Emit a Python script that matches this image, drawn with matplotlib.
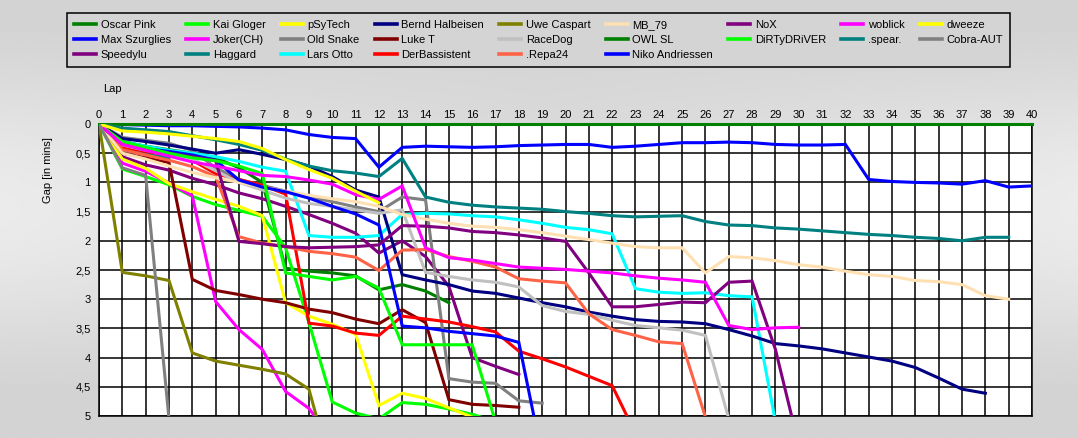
import numpy as np
import matplotlib
matplotlib.use("Agg")
import matplotlib.pyplot as plt
from matplotlib.lines import Line2D

plt.rcParams['font.family'] = ['Liberation Sans', 'DejaVu Sans']

# ---------------- data (gap to leader in minutes, per lap, starting at lap 0) ----------------
names = ["Oscar Pink", "Max Szurglies", "Speedylu", "Kai Gloger", "Joker(CH)", "Haggard",
         "pSyTech", "Old Snake", "Lars Otto", "Bernd Halbeisen", "Luke T", "DerBassistent",
         "Uwe Caspart", "RaceDog", ".Repa24", "MB_79", "OWL SL", "Niko Andriessen",
         "NoX", "DiRTyDRiVER", "woblick", ".spear.", "dweeze", "Cobra-AUT"]

colors = ["#008000", "#0000FF", "#800080", "#00FF00", "#FF00FF", "#008080",
          "#FFFF00", "#808080", "#00FFFF", "#000080", "#800000", "#FF0000",
          "#808000", "#C0C0C0", "#FF6347", "#FFE0B2", "#008000", "#0000FF",
          "#800080", "#00FF00", "#FF00FF", "#008080", "#FFFF00", "#808080"]

oscar_pink = [0, 0.3, 0.38, 0.44, 0.5, 0.58, 0.75, 1.0, 2.47, 2.52, 2.55, 2.6, 2.84, 2.75, 2.86, 3.06]
max_szurglies = [0, 0.01, 0.02, 0.03, 0.03, 0.04, 0.05, 0.07, 0.1, 0.18, 0.23, 0.25, 0.74, 0.4, 0.38,
                 0.39, 0.4, 0.39, 0.37, 0.36, 0.35, 0.35, 0.4, 0.38, 0.35, 0.32, 0.32, 0.31, 0.32,
                 0.35, 0.36, 0.36, 0.35, 0.95, 0.985, 1.0, 1.01, 1.03, 0.97, 1.08, 1.06]
speedylu = [0, 0.56, 0.7, 0.79, 0.93, 1.04, 1.18, 1.28, 1.41, 1.55, 1.7, 1.87, 2.21, 2.0, 2.27,
            2.78, 4.0, 4.15, 4.29]
kai_gloger = [0, 0.77, 0.9, 1.04, 1.24, 1.38, 1.48, 1.58, 2.12, 3.4, 4.76, 4.95, 5.05, 4.77, 4.8,
              4.88, 4.97, 5.1]
joker_ch = [0, 0.67, 0.81, 1.01, 1.23, 3.04, 3.52, 3.86, 4.58, 4.87, 5.4]
haggard = [0, 0.44, 0.52, 0.58]
psytech = [0, 0.6, 0.76, 1.02, 1.16, 1.29, 1.41, 1.57, 3.06, 3.29, 3.43, 3.6, 4.82, 4.61, 4.7,
           4.86, 5.02]
old_snake = [0, 0.23, 0.28, 0.33, 0.45, 0.75, 0.95, 1.05, 1.15, 1.25, 1.33, 1.42, 1.5, 1.25, 1.3,
             4.36, 4.42, 4.44, 4.74, 4.78]
lars_otto = [0, 0.3, 0.38, 0.45, 0.5, 0.56, 0.64, 0.74, 0.81, 1.91, 1.94, 1.94, 1.91, 1.55, 1.53,
             1.54, 1.57, 1.59, 1.64, 1.7, 1.77, 1.81, 1.88, 2.82, 2.88, 2.9, 2.89, 2.94, 2.96, 5.1]
bernd_halbeisen = [0, 0.25, 0.3, 0.36, 0.43, 0.5, 0.44, 0.52, 0.61, 0.72, 0.9, 1.13, 1.25, 2.58,
                   2.67, 2.75, 2.86, 2.9, 2.98, 3.06, 3.13, 3.22, 3.29, 3.35, 3.38, 3.39, 3.42,
                   3.52, 3.63, 3.76, 3.8, 3.85, 3.92, 3.99, 4.06, 4.17, 4.35, 4.54, 4.61]
luke_t = [0, 0.5, 0.58, 0.66, 2.66, 2.85, 2.92, 3.0, 3.06, 3.17, 3.23, 3.34, 3.42, 3.18, 3.4,
          4.72, 4.8, 4.82, 4.85]
derbassistent = [0, 0.4, 0.47, 0.53, 0.62, 0.85, 0.95, 1.05, 1.2, 3.41, 3.46, 3.58, 3.62, 3.29,
                 3.34, 3.39, 3.47, 3.56, 3.89, 4.02, 4.16, 4.32, 4.48, 5.3]
uwe_caspart = [0, 2.54, 2.6, 2.68, 3.92, 4.06, 4.13, 4.2, 4.28, 4.54, 6.0]
racedog = [0, 0.36, 0.45, 0.52, 0.6, 0.8, 1.0, 1.13, 1.27, 1.36, 1.41, 1.47, 1.53, 1.47, 2.54,
           2.61, 2.67, 2.71, 2.79, 3.11, 3.21, 3.26, 3.36, 3.45, 3.49, 3.53, 3.62, 5.05]
repa24 = [0, 0.44, 0.53, 0.62, 0.73, 0.9, 1.93, 2.04, 2.1, 2.18, 2.22, 2.28, 2.51, 2.16, 2.15,
          2.27, 2.35, 2.45, 2.65, 2.69, 2.72, 3.25, 3.52, 3.62, 3.73, 3.76, 5.02]
mb_79 = [0, 0.5, 0.6, 0.72, 0.83, 0.92, 1.0, 1.08, 1.15, 1.22, 1.28, 1.33, 1.41, 1.55, 1.63,
         1.7, 1.75, 1.77, 1.81, 1.86, 1.92, 1.98, 2.04, 2.1, 2.12, 2.12, 2.55, 2.27, 2.29, 2.34,
         2.41, 2.45, 2.52, 2.58, 2.61, 2.68, 2.7, 2.75, 2.94, 3.0]
owl_sl = [0] * 41
niko_andriessen = [0, 0.33, 0.42, 0.47, 0.53, 0.62, 0.96, 1.08, 1.16, 1.27, 1.41, 1.54, 1.73,
                   3.46, 3.49, 3.55, 3.59, 3.63, 3.74, 5.7]
nox = [0, 0.35, 0.42, 0.5, 0.56, 0.63, 2.01, 2.05, 2.1, 2.12, 2.11, 2.1, 2.07, 1.74, 1.75, 1.78,
       1.84, 1.86, 1.9, 1.95, 2.01, 2.55, 3.13, 3.13, 3.09, 3.05, 3.06, 2.71, 2.69, 3.86, 5.5]
dirtydriver = [0, 0.3, 0.4, 0.5, 0.58, 0.63, 0.72, 0.85, 2.55, 2.61, 2.67, 2.61, 2.81, 3.78,
               3.78, 3.78, 3.78, 5.1]
woblick = [0, 0.35, 0.45, 0.55, 0.65, 0.72, 0.8, 0.88, 0.9, 0.96, 1.03, 1.21, 1.29, 1.06, 2.12,
           2.29, 2.33, 2.39, 2.45, 2.47, 2.49, 2.52, 2.55, 2.6, 2.64, 2.67, 2.71, 3.45, 3.52,
           3.49, 3.48]
spear = [0, 0.07, 0.1, 0.13, 0.2, 0.27, 0.35, 0.45, 0.6, 0.72, 0.8, 0.84, 0.9, 0.59, 1.25, 1.34,
         1.39, 1.42, 1.44, 1.46, 1.5, 1.53, 1.57, 1.59, 1.58, 1.57, 1.67, 1.73, 1.74, 1.78, 1.8,
         1.83, 1.86, 1.89, 1.91, 1.94, 1.96, 2.0, 1.94, 1.94]
dweeze = [0, 0.12, 0.14, 0.17, 0.21, 0.25, 0.3, 0.42, 0.61, 0.78, 0.93, 1.15, 1.35]
cobra_aut = [0, 0.75, 0.88, 5.05]

series = [oscar_pink, max_szurglies, speedylu, kai_gloger, joker_ch, haggard, psytech, old_snake,
          lars_otto, bernd_halbeisen, luke_t, derbassistent, uwe_caspart, racedog, repa24, mb_79,
          owl_sl, niko_andriessen, nox, dirtydriver, woblick, spear, dweeze, cobra_aut]

lap_ticks = list(range(0, 41))
gap_ticks = [0, 0.5, 1, 1.5, 2, 2.5, 3, 3.5, 4, 4.5, 5]
gap_labels = ["0", "0,5", "1", "1,5", "2", "2,5", "3", "3,5", "4", "4,5", "5"]

# ---------------- figure ----------------
W, H = 1078, 438
fig = plt.figure(figsize=(W / 100, H / 100), dpi=100)

# soft grey background gradient
bg = fig.add_axes([0, 0, 1, 1], zorder=-10)
yy = np.linspace(0, 1, 200)[:, None]
xx = np.linspace(0, 1, 400)[None, :]
grad = 0.83 + 0.09 * np.sin(np.pi * np.clip((yy - 0.05) / 0.85, 0, 1)) ** 1.5 * (0.35 + 0.65 * np.abs(xx - 0.5) * 2)
bg.imshow(grad, cmap="gray", vmin=0, vmax=1, aspect="auto", extent=[0, 1, 0, 1])
bg.set_axis_off()

ax = fig.add_axes([99 / W, 1 - 416 / H, (1032 - 99) / W, (416 - 124) / H])
ax.set_facecolor("white")

handles = []
for name, col, vals in zip(names, colors, series):
    laps = np.arange(len(vals))
    ax.plot(laps, vals, color=col, lw=2.2, solid_joinstyle="miter",
            clip_on=(name != "OWL SL"), zorder=3)
    handles.append(Line2D([0], [0], color=col, lw=2.6))

ax.set_xlim(0, 40)
ax.set_ylim(5, 0)
ax.xaxis.tick_top()
ax.set_xticks(lap_ticks)
ax.set_xticklabels([str(t) for t in lap_ticks])
ax.set_yticks(gap_ticks)
ax.set_yticklabels(gap_labels)
ax.tick_params(axis="both", length=0, labelsize=8, colors="black")
ax.tick_params(axis="x", pad=3)
ax.tick_params(axis="y", pad=6)
ax.grid(True, color="black", lw=1.1, zorder=1)
ax.set_axisbelow(True)
for sp in ax.spines.values():
    sp.set_color("black")
    sp.set_linewidth(1.1)

fig.text(103 / W, 1 - 89 / H, "Lap", ha="left", va="center", fontsize=8)
fig.text(48 / W, 1 - 170 / H, "Gap [in mins]", ha="center", va="center", rotation=90, fontsize=8)

leg = fig.legend(handles, names, ncol=9, loc="upper left",
                 bbox_to_anchor=(67 / W, 1 - 68 / H, (1010 - 67) / W, 55 / H),
                 mode="expand", fontsize=8, frameon=True, fancybox=False,
                 edgecolor="black", facecolor="#d4d4d4", framealpha=1,
                 handlelength=2.0, handletextpad=0.4, borderpad=0.65,
                 labelspacing=0.45, columnspacing=1.0, borderaxespad=0)
leg.get_frame().set_linewidth(1.1)

fig.savefig("out.png", dpi=100)
